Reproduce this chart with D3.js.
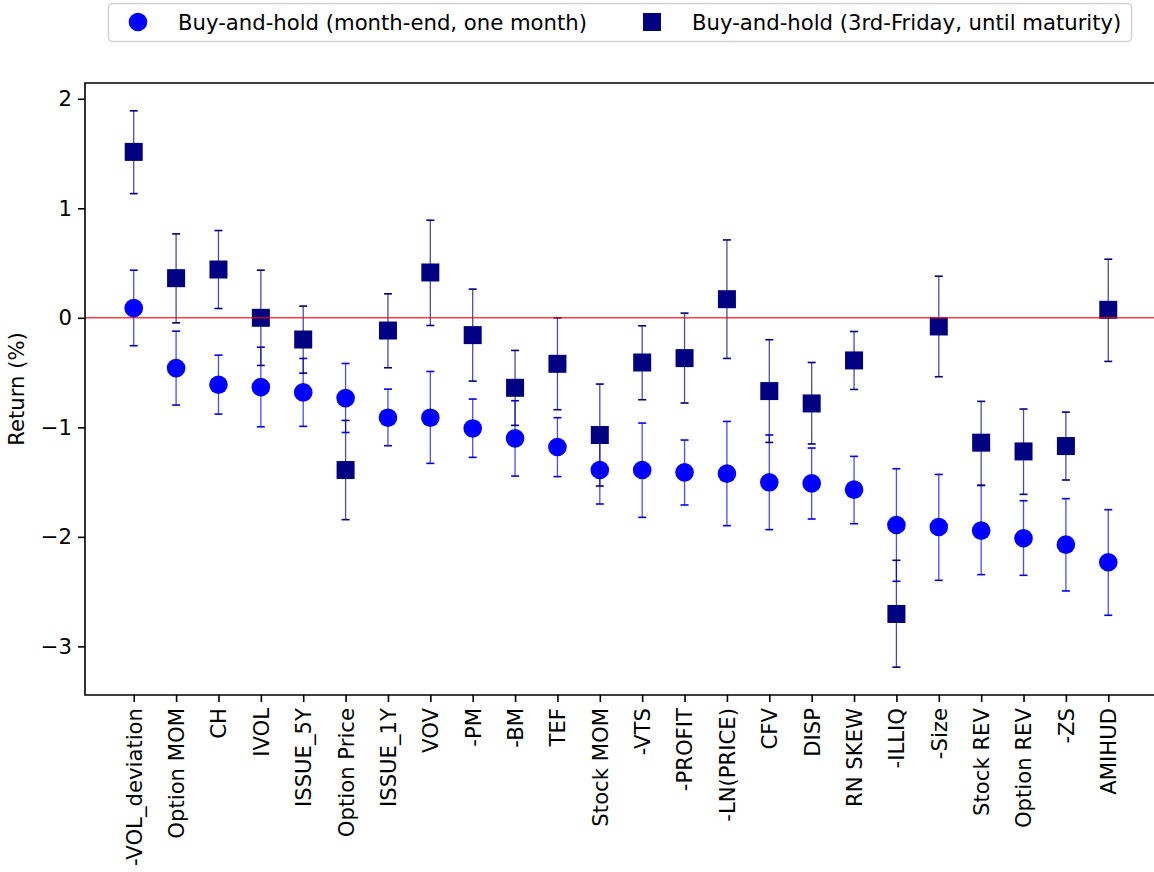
<!DOCTYPE html>
<html>
<head>
<meta charset="utf-8">
<script src="https://cdn.jsdelivr.net/npm/d3@7"></script>
<style>
  body { margin: 0; background: #fff; }
  svg { display: block; font-family: "DejaVu Sans", sans-serif; }
</style>
</head>
<body>
<div id="chart"></div>
<script>
// categories on the x axis
const categories = ["-VOL_deviation", "Option MOM", "CH", "IVOL", "ISSUE_5Y", "Option Price", "ISSUE_1Y", "VOV",
  "-PM", "-BM", "TEF", "Stock MOM", "-VTS", "-PROFIT", "-LN(PRICE)", "CFV", "DISP", "RN SKEW",
  "-ILLIQ", "-Size", "Stock REV", "Option REV", "-ZS", "AMIHUD"];

// Buy-and-hold (month-end, one month)
const monthEnd = [0.088, -0.459, -0.611, -0.633, -0.681, -0.733, -0.912, -0.912, -1.01, -1.101, -1.18, -1.39,
  -1.39, -1.411, -1.423, -1.502, -1.512, -1.569, -1.892, -1.91, -1.943, -2.013, -2.071, -2.232];
const monthEndLo = [-0.255, -0.797, -0.879, -0.995, -0.991, -1.047, -1.168, -1.329, -1.274, -1.445, -1.45, -1.70,
  -1.822, -1.709, -1.898, -1.934, -1.837, -1.88, -2.406, -2.397, -2.345, -2.351, -2.494, -2.716];
const monthEndHi = [0.435, -0.122, -0.341, -0.268, -0.371, -0.417, -0.651, -0.49, -0.742, -0.757, -0.912, -1.083,
  -0.961, -1.116, -0.946, -1.07, -1.189, -1.265, -1.378, -1.43, -1.53, -1.67, -1.651, -1.752];

// Buy-and-hold (3rd-Friday, until maturity)
const thirdFri = [1.515, 0.362, 0.441, 0.0, -0.198, -1.39, -0.116, 0.414, -0.158, -0.639, -0.42, -1.07,
  -0.408, -0.368, 0.17, -0.669, -0.782, -0.389, -2.704, -0.079, -1.14, -1.22, -1.171, 0.073];
const thirdFriLo = [1.134, -0.046, 0.085, -0.435, -0.505, -1.843, -0.456, -0.07, -0.578, -0.982, -0.839, -1.536,
  -0.748, -0.778, -0.371, -1.138, -1.152, -0.654, -3.19, -0.538, -1.53, -1.612, -1.481, -0.398];
const thirdFriHi = [1.89, 0.766, 0.797, 0.435, 0.107, -0.937, 0.219, 0.891, 0.262, -0.298, 0.0, -0.605,
  -0.073, 0.043, 0.711, -0.2, -0.408, -0.125, -2.214, 0.38, -0.763, -0.833, -0.861, 0.535];

const yTicks = [2, 1, 0, -1, -2, -3];
const seriesNames = ["Buy-and-hold (month-end, one month)", "Buy-and-hold (3rd-Friday, until maturity)"];

const width = 1154;
const height = 872;
const margin = {top: 83, right: -3, bottom: 177, left: 85};
const fontSize = 21.2;

const xScale = d3.scaleLinear()
    .domain([-1.15, categories.length - 1 + 1.15])
    .range([margin.left, width - margin.right]);

const yScale = d3.scaleLinear()
    .domain([-3.444, 2.144])
    .range([height - margin.bottom, margin.top]);

const svg = d3.select("#chart").append("svg")
    .attr("width", width)
    .attr("height", height);

// build series rows
const series = [
  {name: seriesNames[0], color: "#0000ff", shape: "circle",
   rows: categories.map((c, i) => ({i: i, v: monthEnd[i], lo: monthEndLo[i], hi: monthEndHi[i]}))},
  {name: seriesNames[1], color: "#000080", shape: "square",
   rows: categories.map((c, i) => ({i: i, v: thirdFri[i], lo: thirdFriLo[i], hi: thirdFriHi[i]}))}
];

const capHalf = 4;
const markerSize = 18;

series.forEach(s => {
  const g = svg.append("g");
  // error lines
  g.selectAll("line.err")
    .data(s.rows)
    .enter().append("line")
      .attr("x1", d => xScale(d.i)).attr("x2", d => xScale(d.i))
      .attr("y1", d => yScale(d.lo)).attr("y2", d => yScale(d.hi))
      .attr("stroke", s.color)
      .attr("stroke-opacity", 0.7)
      .attr("stroke-width", 1.3);
  // caps
  ["lo", "hi"].forEach(k => {
    g.selectAll("line.cap" + k)
      .data(s.rows)
      .enter().append("line")
        .attr("x1", d => xScale(d.i) - capHalf).attr("x2", d => xScale(d.i) + capHalf)
        .attr("y1", d => yScale(d[k])).attr("y2", d => yScale(d[k]))
        .attr("stroke", s.color)
        .attr("stroke-width", 1.6);
  });
  // markers
  if (s.shape === "circle") {
    g.selectAll("circle")
      .data(s.rows)
      .enter().append("circle")
        .attr("cx", d => xScale(d.i))
        .attr("cy", d => yScale(d.v))
        .attr("r", markerSize / 2 + 0.3)
        .attr("fill", s.color);
  } else {
    g.selectAll("rect")
      .data(s.rows)
      .enter().append("rect")
        .attr("x", d => xScale(d.i) - markerSize / 2)
        .attr("y", d => yScale(d.v) - markerSize / 2)
        .attr("width", markerSize)
        .attr("height", markerSize)
        .attr("fill", s.color);
  }
});

// zero line
svg.append("line")
    .attr("x1", margin.left).attr("x2", width)
    .attr("y1", yScale(0)).attr("y2", yScale(0))
    .attr("stroke", "red")
    .attr("stroke-opacity", 0.75)
    .attr("stroke-width", 1.5);

// axes
const xAxis = g => g
    .attr("transform", `translate(0,${height - margin.bottom})`)
    .call(d3.axisBottom(xScale)
      .tickValues(d3.range(categories.length))
      .tickFormat(i => categories[i])
      .tickSize(7).tickPadding(7))
    .call(g => g.select(".domain").remove());

const yAxis = g => g
    .attr("transform", `translate(${margin.left},0)`)
    .call(d3.axisLeft(yScale)
      .tickValues(yTicks)
      .tickFormat(d => d < 0 ? "\u2212" + Math.abs(d) : d)
      .tickSize(7).tickPadding(6))
    .call(g => g.select(".domain").remove());

svg.append("g").call(xAxis)
  .call(g => g.selectAll(".tick line").attr("stroke", "#000").attr("stroke-width", 1.6))
  .call(g => g.selectAll(".tick text")
    .attr("font-size", fontSize)
    .attr("font-family", "DejaVu Sans")
    .attr("fill", "#000")
    .attr("text-anchor", "end")
    .attr("transform", "rotate(-90)")
    .attr("x", -13)
    .attr("y", 0)
    .attr("dy", "0.35em"));

svg.append("g").call(yAxis)
  .call(g => g.selectAll(".tick line").attr("stroke", "#000").attr("stroke-width", 1.6))
  .call(g => g.selectAll(".tick text")
    .attr("font-size", fontSize)
    .attr("font-family", "DejaVu Sans")
    .attr("fill", "#000"));

// spines: left, bottom, top (right is off the canvas)
svg.append("path")
    .attr("d", `M${width},${margin.top}H${margin.left}V${height - margin.bottom}H${width}`)
    .attr("fill", "none")
    .attr("stroke", "#000")
    .attr("stroke-width", 1.6);

// y label
svg.append("text")
    .attr("transform", `translate(24,${(margin.top + height - margin.bottom) / 2}) rotate(-90)`)
    .attr("text-anchor", "middle")
    .attr("font-size", fontSize)
    .text("Return (%)");

// legend
const legend = svg.append("g");
legend.append("rect")
    .attr("x", 108.5).attr("y", 3.5)
    .attr("width", 1023).attr("height", 38)
    .attr("rx", 4)
    .attr("fill", "#fff")
    .attr("stroke", "#d0d0d0")
    .attr("stroke-width", 1.5);

const legendX = [138, 652];
legend.append("circle")
    .attr("cx", legendX[0]).attr("cy", 22).attr("r", 9.3)
    .attr("fill", series[0].color);
legend.append("rect")
    .attr("x", legendX[1] - 9).attr("y", 13).attr("width", 18).attr("height", 18)
    .attr("fill", series[1].color);
legend.selectAll("text.lg")
    .data(seriesNames)
    .enter().append("text")
      .attr("x", (d, i) => legendX[i] + 40)
      .attr("y", 29.5)
      .attr("font-size", fontSize)
      .text(d => d);
</script>
</body>
</html>
